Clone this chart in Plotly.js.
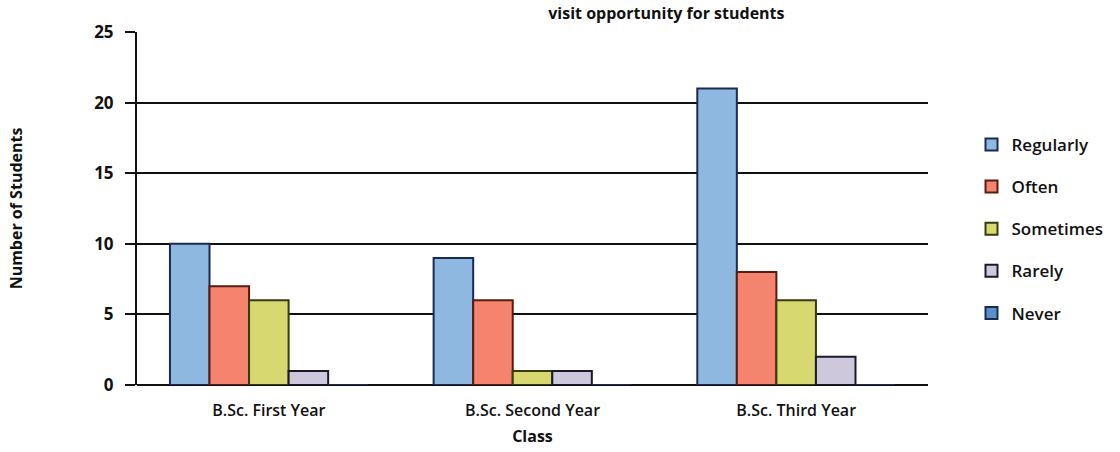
<!DOCTYPE html>
<html>
<head>
<meta charset="utf-8">
<script src="https://cdn.plot.ly/plotly-3.0.1.min.js"></script>
<style>html,body{margin:0;padding:0;background:#fff;}#chart{width:1120px;height:452px;}</style>
</head>
<body>
<div id="chart"></div>
<script>
var categories = ["B.Sc. First Year", "B.Sc. Second Year", "B.Sc. Third Year"];
var seriesNames = ["Regularly", "Often", "Sometimes", "Rarely", "Never"];
var regularly = [10, 9, 21];
var often = [7, 6, 8];
var sometimes = [6, 1, 6];
var rarely = [1, 1, 2];
var never = [0, 0, 0];
var yTicks = [0, 5, 10, 15, 20, 25];

var values = [regularly, often, sometimes, rarely, never];
var fills = ["#8fb8e0", "#f4846e", "#d8d870", "#cdc8dc", "#5a8fc8"];
var borders = ["#1a2a55", "#5a1a10", "#3a3a10", "#1a1a2a", "#1a2a55"];

var traces = seriesNames.map(function(n, i){
  return {
    type: "bar", name: n, x: categories, y: values[i], legendgroup: "g" + i,
    marker: {color: fills[i], line: {color: borders[i], width: 2}}
  };
});

var fam = "Open Sans, Lato, sans-serif";
var layout = {
  width: 1120, height: 452,
  margin: {l: 137, r: 183, t: 32, b: 67},
  paper_bgcolor: "#fff", plot_bgcolor: "#fff",
  barmode: "group", bargap: 0.25, bargroupgap: 0,
  font: {family: fam, color: "#111", size: 16},
  title: {text: "<b>visit opportunity for students</b>", x: 0.595, xanchor: "center", y: 0.982, yanchor: "top", font: {size: 16, color: "#111", family: fam}},
  xaxis: {
    showline: false, ticks: "", showgrid: false,
    ticklabelstandoff: 14,
    tickfont: {size: 16, color: "#111", weight: 600},
    title: {text: "<b>Class</b>", standoff: 10, font: {size: 16, color: "#111"}}
  },
  yaxis: {
    range: [0, 25], tickvals: yTicks, ticktext: yTicks.map(String),
    showgrid: true, gridcolor: "#111", gridwidth: 2,
    showline: true, linecolor: "#111", linewidth: 2,
    ticks: "outside", ticklen: 10, tickcolor: "#111", tickwidth: 2,
    zeroline: true, zerolinecolor: "#111", zerolinewidth: 2,
    ticklabelstandoff: 8,
    tickfont: {size: 17, color: "#111", weight: 700},
    title: {text: "<b>Number of Students</b>", standoff: 68, font: {size: 16, color: "#111"}}
  },
  legend: {
    x: 1.055, xanchor: "left", y: 0.442, yanchor: "middle",
    font: {size: 17, color: "#111", weight: 600}, tracegroupgap: 17, itemwidth: 30,
    traceorder: "grouped"
  },
  showlegend: true
};

Plotly.newPlot("chart", traces, layout, {displayModeBar: false, staticPlot: true});
</script>
</body>
</html>
